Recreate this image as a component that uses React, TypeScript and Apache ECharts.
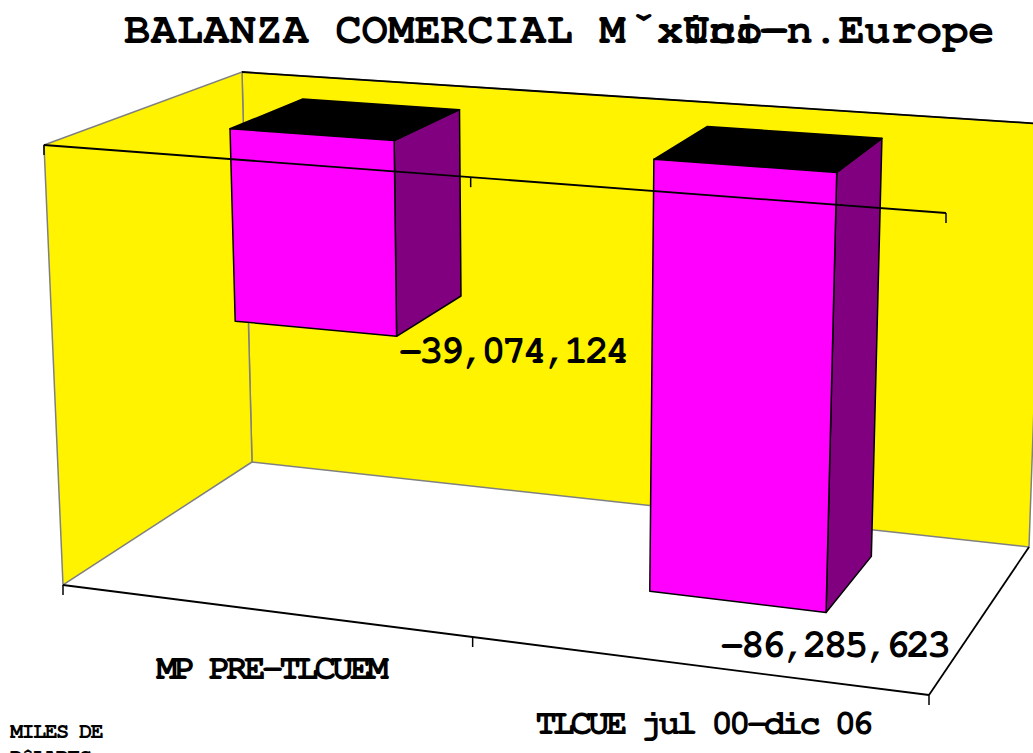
import React, { useEffect, useRef } from "react";
import * as echarts from "echarts";

const categories = ["MP PRE-TLCUEM", "TLCUE jul 00-dic 06"];
const balance = [-39074124, -86285623];
const valueLabels = ["-39,074,124", "-86,285,623"];
const titleParts = ["BALANZA COMERCIAL Mˇxico-", "Uni—n.Europe"];
const unitLines = ["MILES DE", "DîLARES"];

const W = 1033;
const H = 753;
const FONT = '"FreeMono", "Liberation Mono", monospace';

const YELLOW = "#FFF300";
const MAGENTA = "#FF00FF";
const PURPLE = "#800080";
const GRAY = "#808080";

const TITLE_PITCH = 26.4;
const TITLE_TAIL_PITCH = 25.9;
const TITLE_TAIL_X = 683;
const TITLE_SHIFT_FROM = 19;
const TITLE_SHIFT = 5;
const VALUE_PITCH = 20.7;
const CATEGORY_PITCH = 17.6;
const UNIT_PITCH = 11.5;

type P = [number, number];
const FTL: P = [44, 145], FTR: P = [946, 213], FBL: P = [63, 585], FBR: P = [929, 695];
const BTL: P = [242, 72], BTR: P = [1044, 124], BBL: P = [252, 462], BBR: P = [1029, 547];

const mix = (a: P, b: P, t: number): P => [a[0] + (b[0] - a[0]) * t, a[1] + (b[1] - a[1]) * t];
const warpU = (u: number) => u / (u + (1 - u) * 1.114);
const warpV = (v: number) => v / (v + (1 - v) * 0.95);
const project = (u: number, v: number, d: number): P => {
  const uw = warpU(u), vw = warpV(v);
  const top = mix(mix(FTL, FTR, uw), mix(BTL, BTR, uw), d);
  const bot = mix(mix(FBL, FBR, uw), mix(BBL, BBR, uw), d);
  return mix(top, bot, vw);
};

const D0 = 0.34, D1 = 0.735, HALF_BAR = 0.1;
const labelOffset: P[] = [[2, 15], [-106, 33]];

const renderBar = (params: any, api: any) => {
  const i = api.value(0);
  const top = api.coord([i, 0]);
  const low = api.coord([i, api.value(1)]);
  const uc = top[0] / W;
  const v0 = top[1] / H, v1 = low[1] / H;
  const uL = uc - HALF_BAR, uR = uc + HALF_BAR;
  const ftl = project(uL, v0, D0), ftr = project(uR, v0, D0);
  const fbl = project(uL, v1, D0), fbr = project(uR, v1, D0);
  const btl = project(uL, v0, D1), btr = project(uR, v0, D1);
  const bbr = project(uR, v1, D1);
  const line = { stroke: "#000", lineWidth: 1.5, lineJoin: "round" };
  const off = labelOffset[i];
  return {
    type: "group",
    children: [
      { type: "polygon", shape: { points: [ftr, btr, bbr, fbr] }, style: { fill: PURPLE, ...line } },
      { type: "polygon", shape: { points: [ftl, btl, btr, ftr] }, style: { fill: "#000", ...line } },
      { type: "polygon", shape: { points: [ftl, ftr, fbr, fbl] }, style: { fill: MAGENTA, ...line } },
      {
        type: "text",
        style: {
          text: valueLabels[i], x: fbr[0] + off[0], y: fbr[1] + off[1],
          fontFamily: FONT, fontWeight: "bold", fontSize: 40, fill: "#000",
          align: "left", verticalAlign: "middle",
        },
      },
    ],
  };
};

const renderCategory = (params: any, api: any) => {
  const i = api.value(0);
  const c = api.coord([i, 0]);
  const p = project(c[0] / W, 1, 0);
  return {
    type: "text",
    style: {
      text: categories[i], x: p[0] + 8 - (categories[i].length * CATEGORY_PITCH) / 2, y: p[1] + 58,
      fontFamily: FONT, fontWeight: "bold", fontSize: 36, fill: "#000",
      align: "left", verticalAlign: "middle",
    },
  };
};

const poly = (pts: P[], fill: string, stroke: string, z = 0) => ({
  type: "polygon", z, silent: true, shape: { points: pts }, style: { fill, stroke, lineWidth: 1.5 },
});
const seg = (a: P, b: P, stroke = "#000", z = 10, lineWidth = 1.8) => ({
  type: "line", z, silent: true,
  shape: { x1: a[0], y1: a[1], x2: b[0], y2: b[1] }, style: { stroke, lineWidth },
});
const tick = (u: number, v: number) => {
  const p = project(u, v, 0);
  return seg(p, [p[0], p[1] + 10], "#000", 10, 1.5);
};
const label = (text: string, x: number, y: number, size: number) => ({
  type: "text", z: 12, silent: true, x, y,
  style: { text, fontFamily: FONT, fontWeight: "bold", fontSize: size, fill: "#000", align: "left", verticalAlign: "middle" },
});

// Fixed character pitch of the source picture: one <text>, one x per glyph.
const applyPitch = (root: HTMLElement) => {
  const offsetOf = (s: string, i: number): number | null => {
    if (s === titleParts[0]) return i * TITLE_PITCH + (i >= TITLE_SHIFT_FROM ? TITLE_SHIFT : 0);
    if (s === titleParts[1]) return i * TITLE_TAIL_PITCH;
    if (valueLabels.includes(s)) return i * VALUE_PITCH;
    if (categories.includes(s)) return i * CATEGORY_PITCH;
    if (unitLines.includes(s)) return i * UNIT_PITCH;
    return null;
  };
  root.querySelectorAll("svg text").forEach((t) => {
    const s = t.textContent || "";
    const raw = t.getAttribute("x") || "0";
    if (offsetOf(s, 0) === null || raw.includes(" ")) return;
    const base = parseFloat(raw);
    t.setAttribute("x", Array.from(s).map((_, i) => (base + (offsetOf(s, i) as number)).toFixed(2)).join(" "));
  });
};

export default function App() {
  const ref = useRef<HTMLDivElement>(null);
  useEffect(() => {
    document.body.style.margin = "0";
    document.body.style.overflow = "hidden";
    const chart = echarts.init(ref.current!, undefined, { renderer: "svg" });
    chart.setOption({
      animation: false,
      backgroundColor: "#fff",
      grid: { left: 0, top: 0, width: W, height: H },
      xAxis: { type: "category", data: categories, show: false },
      yAxis: { type: "value", min: -89500000, max: 0, show: false },
      graphic: [
        poly([BTL, BTR, BBR, BBL], YELLOW, GRAY),
        poly([FTL, BTL, BBL, FBL], YELLOW, GRAY),
        seg(BTL, BTR, "#000", 1),
        seg(FBL, FBR),
        seg(FBR, BBR),
        seg(FTL, FTR),
        tick(0, 0), tick(0.5, 0), tick(1, 0),
        tick(0, 1), tick(0.5, 1), tick(1, 1),
        label(titleParts[0], 124, 30, 44),
        label(titleParts[1], TITLE_TAIL_X, 30, 44),
        label(unitLines[0], 10, 731, 22),
        label(unitLines[1], 10, 757, 22),
      ],
      series: [
        {
          type: "custom", coordinateSystem: "cartesian2d", z: 3, silent: true,
          data: balance.map((v, i) => [i, v]), encode: { x: 0, y: 1 },
          clip: false, renderItem: renderBar,
        },
        {
          type: "custom", coordinateSystem: "cartesian2d", z: 3, silent: true,
          data: balance.map((v, i) => [i, v]), encode: { x: 0, y: 1 },
          clip: false, renderItem: renderCategory,
        },
      ],
    });
    applyPitch(ref.current!);
    chart.on("finished", () => applyPitch(ref.current!));
    return () => chart.dispose();
  }, []);
  return <div ref={ref} style={{ width: W, height: H }} />;
}
